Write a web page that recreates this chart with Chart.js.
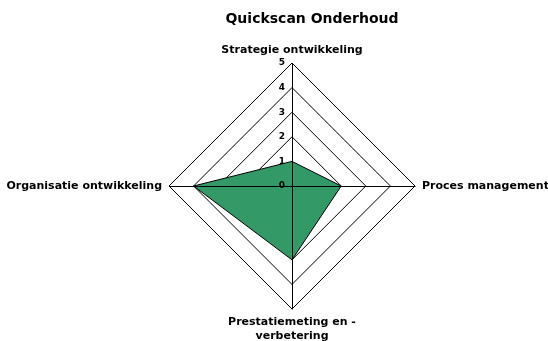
<!DOCTYPE html>
<html>
<head>
<meta charset="utf-8">
<script src="https://cdn.jsdelivr.net/npm/chart.js@4.4.1/dist/chart.umd.min.js"></script>
<style>
  html, body { margin: 0; padding: 0; background: #fff; }
  canvas { display: block; }
</style>
</head>
<body>
<canvas id="chart" width="548" height="341"></canvas>
<script>
// chart data
const title = 'Quickscan Onderhoud';
const categories = [
    ['Strategie ontwikkeling'],
    ['Proces management'],
    ['Prestatiemeting en -', 'verbetering'],
    ['Organisatie ontwikkeling']
];
const scores = [1, 2, 3, 4];
const tickValues = [0, 1, 2, 3, 4, 5];

const labelFont = 'bold 11px "DejaVu Sans"';

// draws title, tick numbers, axis labels and the axes over the fill
const overlay = {
    id: 'overlay',
    afterDatasetsDraw(chart) {
        const ctx = chart.ctx;
        const r = chart.scales.r;
        ctx.save();
        ctx.strokeStyle = '#000';
        ctx.lineWidth = 1;
        categories.forEach((c, i) => {
            const p = r.getPointPosition(i, r.drawingArea);
            ctx.beginPath();
            ctx.moveTo(r.xCenter + 0.5, r.yCenter + 0.5);
            ctx.lineTo(Math.round(p.x) + 0.5, Math.round(p.y) + 0.5);
            ctx.stroke();
        });
        ctx.restore();
    },
    afterDraw(chart) {
        const ctx = chart.ctx;
        const r = chart.scales.r;
        ctx.save();
        ctx.fillStyle = '#000';

        ctx.font = 'bold 14px "DejaVu Sans"';
        ctx.textAlign = 'center';
        ctx.textBaseline = 'middle';
        ctx.fillText(title, 312, 19);

        ctx.font = 'bold 9px "DejaVu Sans"';
        ctx.textAlign = 'right';
        tickValues.forEach(v => {
            const y = r.yCenter - r.getDistanceFromCenterForValue(v);
            ctx.fillText(String(v), r.xCenter - 7, y);
        });

        ctx.font = labelFont;
        const gap = 7;
        categories.forEach((lines, i) => {
            const p = r.getPointPosition(i, r.drawingArea + gap);
            const dx = p.x - r.xCenter;
            const dy = p.y - r.yCenter;
            if (Math.abs(dx) < 1) {
                ctx.textAlign = 'center';
                if (dy < 0) {
                    ctx.textBaseline = 'bottom';
                    lines.forEach((t, k) => ctx.fillText(t, p.x, p.y - (lines.length - 1 - k) * 14));
                } else {
                    ctx.textBaseline = 'top';
                    lines.forEach((t, k) => ctx.fillText(t, p.x, p.y + 1 + k * 14));
                }
            } else {
                ctx.textAlign = dx > 0 ? 'left' : 'right';
                ctx.textBaseline = 'middle';
                lines.forEach((t, k) => ctx.fillText(t, p.x, p.y + k * 14));
            }
        });
        ctx.restore();
    }
};

new Chart(document.getElementById('chart'), {
    type: 'radar',
    data: {
        labels: categories,
        datasets: [{
            data: scores,
            backgroundColor: '#339966',
            borderColor: '#000',
            borderWidth: 1,
            pointRadius: 0,
            pointHoverRadius: 0,
            fill: true
        }]
    },
    options: {
        responsive: false,
        animation: false,
        events: [],
        layout: { padding: { left: 169, right: 133, top: 63, bottom: 32 } },
        plugins: {
            legend: { display: false },
            title: { display: false },
            tooltip: { enabled: false }
        },
        scales: {
            r: {
                min: 0,
                max: 5,
                ticks: { display: false, stepSize: 1 },
                pointLabels: { display: false },
                grid: { color: '#000', lineWidth: 1, circular: false },
                angleLines: { display: false }
            }
        }
    },
    plugins: [overlay]
});
</script>
</body>
</html>
